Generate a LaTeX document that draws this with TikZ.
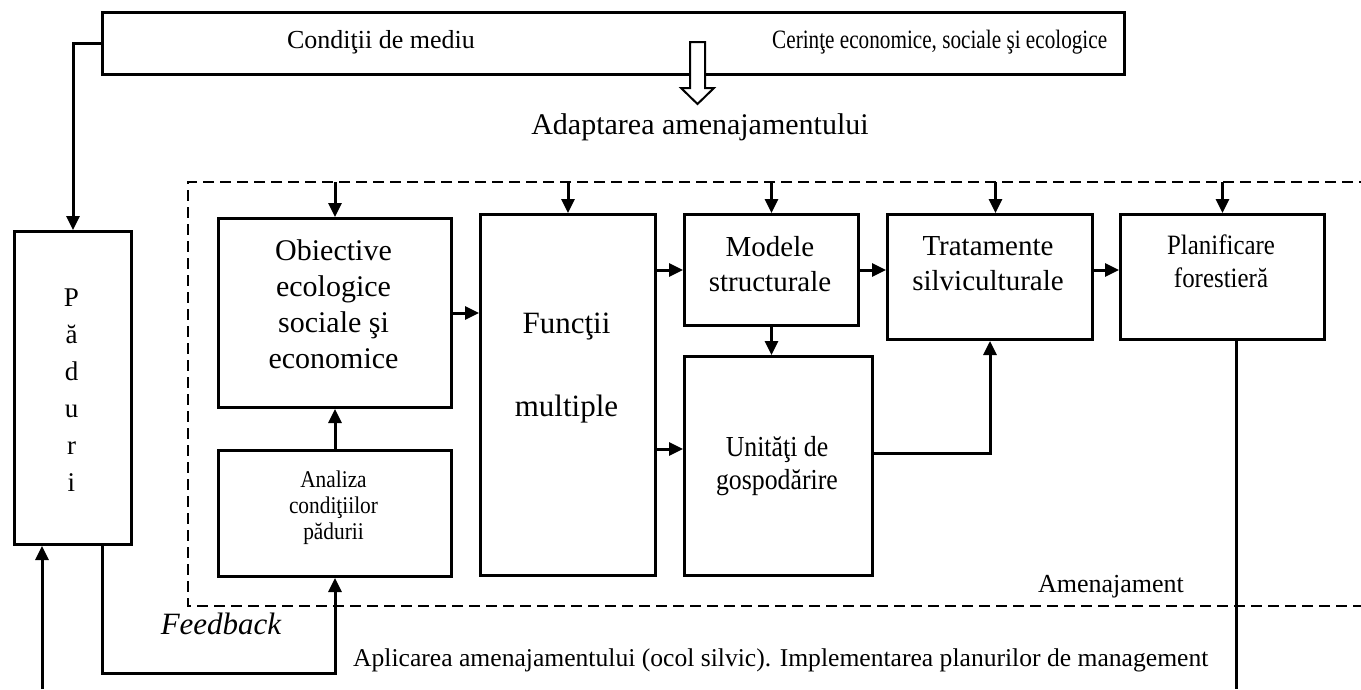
\documentclass[tikz,border=0pt]{standalone}
\usepackage{fontspec}
\setmainfont{Liberation Serif}
\newfontfamily\narrowA[FakeStretch=0.8]{Liberation Serif}
\newfontfamily\narrowB[FakeStretch=0.89]{Liberation Serif}
\usetikzlibrary{arrows.meta}
\newcommand\fsz[2]{\fontsize{#1}{#2}\selectfont}
\begin{document}
\begin{tikzpicture}[x=1pt,y=-1pt,
  box/.style={draw, line width=3pt, inner sep=0pt, anchor=north west},
  link/.style={line width=3pt, -{Triangle[length=14pt,width=13pt]}},
  wire/.style={line width=3pt},
  frame/.style={line width=2.4pt, dash pattern=on 11pt off 6pt},
  txt/.style={inner sep=0pt, align=center}]
\useasboundingbox (0,0) rectangle (1361,689);

% boxes
\node[box, minimum width=1022pt, minimum height=62pt] (bar) at (101,11) {};
\node[box, minimum width=117pt, minimum height=313pt] (paduri) at (13,230) {};
\node[box, minimum width=233pt, minimum height=189pt] (obj) at (217,217) {};
\node[box, minimum width=233pt, minimum height=126pt] (ana) at (217,449) {};
\node[box, minimum width=175pt, minimum height=361pt] (fun) at (479,213) {};
\node[box, minimum width=174pt, minimum height=111pt] (mod) at (683,213) {};
\node[box, minimum width=188pt, minimum height=219pt] (uni) at (683,355) {};
\node[box, minimum width=205pt, minimum height=125pt] (tra) at (886,213) {};
\node[box, minimum width=204pt, minimum height=125pt] (pla) at (1119,213) {};

% dashed frame, open to the right
\coordinate (ftl) at (188,182);
\coordinate (fbl) at (188,606);
\draw[frame] (1370,182) -- (ftl) -- (fbl) -- (1370,606);

% hollow arrow under the top bar
\draw[line width=2pt, fill=white] (690,42) -- (705,42) -- (705,88) -- (714,88)
  -- (697.5,104) -- (681,88) -- (690,88) -- cycle;

% labels
\node[txt, font=\fsz{26}{31}] (cond) at (381,42) {Condiţii de mediu};
\node[txt, font=\narrowA\fsz{26.5}{31}, anchor=west] (cer) at (772,42) {Cerinţe economice, sociale şi ecologice};
\node[txt, font=\fsz{30}{36}] (adapt) at (700,127) {Adaptarea amenajamentului};
\node[txt, font=\fsz{27}{37}] (paduri-t) at (71.5,390) {P\\ă\\d\\u\\r\\i};
\node[txt, font=\fsz{30}{36}] (obj-t) at (333.5,304) {Obiective\\ecologice\\sociale şi\\economice};
\node[txt, font=\narrowB\fsz{24}{26}] (ana-t) at (333.5,508) {Analiza\\condiţiilor\\pădurii};
\node[txt, font=\fsz{31}{37}] (fun-t) at (566.5,368) {Funcţii\\[46pt]multiple};
\node[txt, font=\fsz{29}{35}] (mod-t) at (770,264) {Modele\\structurale};
\node[txt, font=\narrowB\fsz{29}{33}] (uni-t) at (777,466) {Unităţi de\\gospodărire};
\node[txt, font=\fsz{29}{35}] (tra-t) at (988,264) {Tratamente\\silviculturale};
\node[txt, font=\narrowB\fsz{28}{33}] (pla-t) at (1221,261) {Planificare\\forestieră};
\node[txt, font=\fsz{26}{31}] (amen) at (1111,587) {Amenajament};
\node[txt, font=\fsz{31}{37}\itshape] (feed) at (221,624) {Feedback};
\node[txt, font=\fsz{25.6}{31}, anchor=west] (apl) at (353,660) {Aplicarea amenajamentului (ocol silvic). Implementarea planurilor de management};

% connectors
\draw[link] (bar.west) -| (paduri.north);
\coordinate (in) at (42,689);
\draw[link] (in) -- (in |- paduri.south);
\draw[link] ([xshift=29.5pt]paduri.south) -- ++(0,127) -| (ana.south);
\draw[link] (ana.north) -- (obj.south);
\draw[link] (obj.east) -- (obj.east -| fun.west);
\draw[link] (fun.east |- mod.west) -- (mod.west);
\draw[link] (fun.east |- 0,449) -- (uni.west |- 0,449);
\draw[link] (mod.south) -- (mod.south |- uni.north);
\draw[link] (mod.east) -- (mod.east -| tra.west);
\draw[link] (tra.east |- mod.east) -- (pla.west |- mod.east);
\draw[link] (uni.east |- 0,453) -| (tra.south);
\coordinate (out) at (1236,689);
\draw[wire] (out |- pla.south) -- (out);

% arrows from the frame into the boxes
\draw[link] (obj.north |- ftl) -- (obj.north);
\draw[link] (fun.north |- ftl) -- (fun.north);
\draw[link] (mod.north |- ftl) -- (mod.north);
\draw[link] ([xshift=5.5pt]tra.north |- ftl) -- ([xshift=5.5pt]tra.north);
\draw[link] (pla.north |- ftl) -- (pla.north);
\end{tikzpicture}
\end{document}
